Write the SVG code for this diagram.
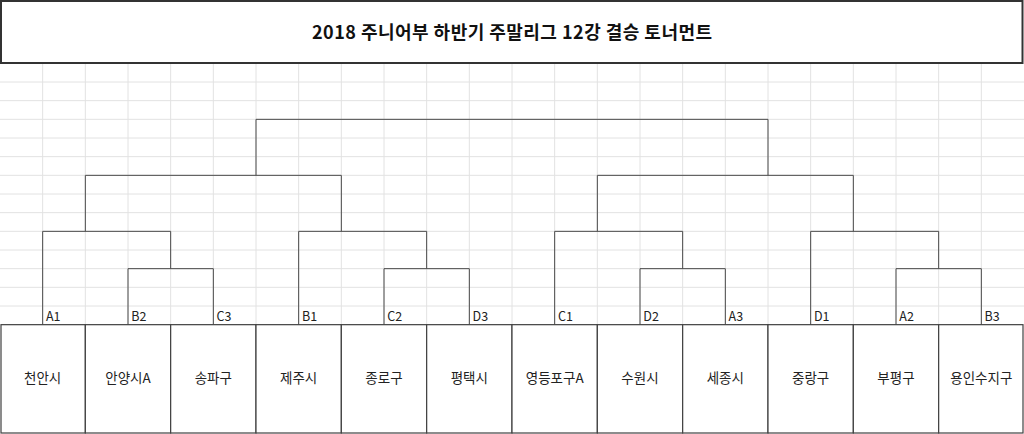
<svg xmlns="http://www.w3.org/2000/svg" width="1024" height="434" viewBox="0 0 1024 434">
<style>
.grid{stroke:#e2e2e2;stroke-width:1;fill:none}
.line{stroke:#4a4a4a;stroke-width:1;fill:none}
.box{stroke:#404040;stroke-width:1.2;fill:#ffffff}
.lbl{font-family:"Noto Sans CJK KR","Noto Sans",sans-serif;font-size:12.5px;fill:#222}
.team{font-family:"Noto Sans CJK KR","Noto Sans",sans-serif;font-size:13.5px;fill:#222;text-anchor:middle}
.title{font-family:"Noto Sans CJK KR","Noto Sans",sans-serif;font-size:18px;font-weight:bold;fill:#111;text-anchor:middle}
</style>
<rect x="0" y="0" width="1024" height="434" fill="#ffffff"/>
<g id="grid" class="grid">
<path d="M42.67 63V325M85.33 63V325M128 63V325M170.67 63V325M213.33 63V325M256 63V325M298.67 63V325M341.33 63V325M384 63V325M426.67 63V325M469.33 63V325M512 63V325M554.67 63V325M597.33 63V325M640 63V325M682.67 63V325M725.33 63V325M768 63V325M810.67 63V325M853.33 63V325M896 63V325M938.67 63V325M981.33 63V325"/>
<path d="M0 82H1024M0 100.67H1024M0 119.33H1024M0 138H1024M0 156.67H1024M0 175.33H1024M0 194H1024M0 212.67H1024M0 231.33H1024M0 250H1024M0 268.67H1024M0 287.33H1024M0 306H1024"/>
</g>
<g id="title">
<rect x="1" y="1" width="1021.5" height="62" fill="#ffffff" stroke="#333" stroke-width="2"/>
<text class="title" x="512" y="39" textLength="400" lengthAdjust="spacing">2018 주니어부 하반기 주말리그 12강 결승 토너먼트</text>
</g>
<g id="connectors" class="line">
<path d="M42.67 324.67V231.33H170.67V268.67M128 324.67V268.67H213.33V324.67M85.33 231.33V175.33"/>
<path d="M298.67 324.67V231.33H426.67V268.67M384 324.67V268.67H469.33V324.67M341.33 231.33V175.33"/>
<path d="M85.33 175.33H341.33M256 175.33V119.33H768V175.33"/>
<path d="M554.67 324.67V231.33H682.67V268.67M640 324.67V268.67H725.33V324.67M597.33 231.33V175.33H853.33"/>
<path d="M810.67 324.67V231.33H938.67V268.67M896 324.67V268.67H981.33V324.67M853.33 231.33V175.33"/>
</g>
<g id="seeds">
<text class="lbl" x="46" y="320.5">A1</text>
<text class="lbl" x="131.3" y="320.5">B2</text>
<text class="lbl" x="216.6" y="320.5">C3</text>
<text class="lbl" x="302" y="320.5">B1</text>
<text class="lbl" x="387.3" y="320.5">C2</text>
<text class="lbl" x="472.6" y="320.5">D3</text>
<text class="lbl" x="558" y="320.5">C1</text>
<text class="lbl" x="643.3" y="320.5">D2</text>
<text class="lbl" x="728.6" y="320.5">A3</text>
<text class="lbl" x="814" y="320.5">D1</text>
<text class="lbl" x="899.3" y="320.5">A2</text>
<text class="lbl" x="984.6" y="320.5">B3</text>
</g>
<g id="team1"><rect class="box" x="1" y="324.67" width="84.33" height="108.33"/><text class="team" x="42.67" y="383">천안시</text></g>
<g id="team2"><rect class="box" x="85.33" y="324.67" width="85.33" height="108.33"/><text class="team" x="128" y="383">안양시A</text></g>
<g id="team3"><rect class="box" x="170.67" y="324.67" width="85.33" height="108.33"/><text class="team" x="213.33" y="383">송파구</text></g>
<g id="team4"><rect class="box" x="256" y="324.67" width="85.33" height="108.33"/><text class="team" x="298.67" y="383">제주시</text></g>
<g id="team5"><rect class="box" x="341.33" y="324.67" width="85.33" height="108.33"/><text class="team" x="384" y="383">종로구</text></g>
<g id="team6"><rect class="box" x="426.67" y="324.67" width="85.33" height="108.33"/><text class="team" x="469.33" y="383">평택시</text></g>
<g id="team7"><rect class="box" x="512" y="324.67" width="85.33" height="108.33"/><text class="team" x="554.67" y="383">영등포구A</text></g>
<g id="team8"><rect class="box" x="597.33" y="324.67" width="85.33" height="108.33"/><text class="team" x="640" y="383">수원시</text></g>
<g id="team9"><rect class="box" x="682.67" y="324.67" width="85.33" height="108.33"/><text class="team" x="725.33" y="383">세종시</text></g>
<g id="team10"><rect class="box" x="768" y="324.67" width="85.33" height="108.33"/><text class="team" x="810.67" y="383">중랑구</text></g>
<g id="team11"><rect class="box" x="853.33" y="324.67" width="85.33" height="108.33"/><text class="team" x="896" y="383">부평구</text></g>
<g id="team12"><rect class="box" x="938.67" y="324.67" width="84.33" height="108.33"/><text class="team" x="981.33" y="383">용인수지구</text></g>
</svg>
